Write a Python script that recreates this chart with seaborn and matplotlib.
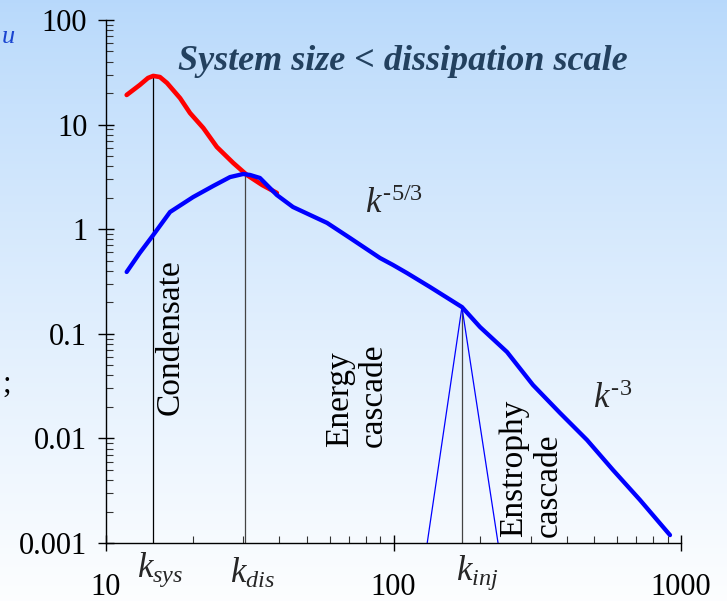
import numpy as np
import matplotlib
matplotlib.use("Agg")
import matplotlib.pyplot as plt
import matplotlib.ticker as mticker
import seaborn as sns

# Energy spectra
red_k = [11.8, 13.1, 14.0, 14.6, 15.4, 16.3, 18.1, 19.6, 21.8, 24.3, 27.7, 30.9, 34.9, 39.3]
red_e = [19.2, 23.9, 27.9, 29.2, 28.5, 25.0, 17.9, 12.9, 9.28, 6.11, 4.30, 3.30, 2.65, 2.22]

blue_k = [11.8, 13.1, 14.6, 16.7, 20.1, 23.6, 27.0, 30.0, 31.7, 34.3, 39.3, 44.7,
          58.7, 70.6, 89.7, 99.6, 111.4, 134.0, 173.1, 200.0, 248.2, 305.6, 379.5,
          471.0, 580.0, 720.0, 915.6]
blue_e = [0.390, 0.592, 0.880, 1.46, 2.03, 2.59, 3.15, 3.37, 3.30, 3.09, 2.12, 1.63,
          1.15, 0.824, 0.531, 0.455, 0.381, 0.280, 0.180, 0.116, 0.0670, 0.0324, 0.0175,
          0.00966, 0.00499, 0.00258, 0.00119]

# characteristic wavenumbers and where their markers end
mark_names = ["sys", "dis", "inj"]
mark_k = [14.6, 30.5, 173.0]
mark_top = [29.2, 3.3, 0.18]

# forcing "triangle" at k_inj
tri_k = [131.0, 173.0, 231.0]
tri_e = [0.001, 0.18, 0.001]

W, H = 727, 601
fig = plt.figure(figsize=(W / 100, H / 100), dpi=100)
sns.set_style("ticks")
plt.rcParams["font.family"] = ["Liberation Serif", "DejaVu Serif"]
plt.rcParams["mathtext.fontset"] = "custom"
plt.rcParams["mathtext.rm"] = "Liberation Serif"
plt.rcParams["mathtext.it"] = "Liberation Serif:italic"

# light blue to white backdrop
bg = fig.add_axes([0, 0, 1, 1], zorder=-1)
t = np.linspace(0, 1, 256)[:, None]
top = np.array([0.72, 0.85, 0.985])
bot = np.array([0.99, 0.995, 1.0])
grad = top + (bot - top) * t ** 0.85
bg.imshow(np.repeat(grad[:, None, :], 2, axis=1), aspect="auto", extent=[0, 1, 0, 1])
bg.axis("off")

ax = fig.add_axes([106 / W, 1 - 543 / H, 575 / W, 523 / H])
ax.set_facecolor("none")
ax.set_xscale("log")
ax.set_yscale("log")

sns.lineplot(x=red_k, y=red_e, sort=False, estimator=None, color="#ff0000", lw=3.3, ax=ax)
sns.lineplot(x=blue_k, y=blue_e, sort=False, estimator=None, color="#0000ff", lw=3.1, ax=ax)

ax.vlines(mark_k, 0.001, mark_top, colors=["black", "#444444", "#444444"], lw=0.9, zorder=1)
ax.plot(tri_k, tri_e, color="#0000ff", lw=0.9)

ax.set_xlim(10, 1000)
ax.set_ylim(0.001, 100)
sns.despine(ax=ax)
for s in ["left", "bottom"]:
    ax.spines[s].set_linewidth(1.0)
    ax.spines[s].set_color("black")

fmt = mticker.FuncFormatter(lambda v, p: f"{v:g}")
ax.xaxis.set_major_formatter(fmt)
ax.yaxis.set_major_formatter(fmt)
ax.xaxis.set_minor_formatter(mticker.NullFormatter())
ax.yaxis.set_minor_formatter(mticker.NullFormatter())
ax.tick_params(which="major", direction="inout", length=11, width=1, labelsize=22, colors="black")
ax.tick_params(which="minor", direction="in", length=5, width=0.8, colors="#333333")
ax.tick_params(axis="x", which="major", pad=16)
ax.tick_params(axis="y", which="major", pad=8)

# labels under the axis for the marked wavenumbers
xt = ax.get_xaxis_transform()
k_label_x = [12.8, 27.0, 165.0]
k_label_y = [-0.065, -0.077, -0.071]
for name, lx, ly in zip(mark_names, k_label_x, k_label_y):
    ax.text(lx, ly, rf"$k_{{{name}}}$", transform=xt, fontsize=25, ha="left",
            va="baseline", clip_on=False)

txt = dict(fontsize=24, rotation=90, color="black")
ax.text(16.8, 0.093, "Condensate", ha="center", va="center", **txt)
ax.text(74.6, 0.0083, "Energy\ncascade", ha="center", va="bottom",
        multialignment="left", linespacing=1.15, **txt)
ax.text(301, 0.00114, "Enstrophy\ncascade", ha="center", va="bottom",
        multialignment="left", linespacing=1.15, **txt)

ax.text(79.6, 1.43, r"$k^{\text{-5/3}}$", fontsize=25, ha="left", va="baseline")
ax.text(494, 0.0195, r"$k^{\text{-3}}$", fontsize=25, ha="left", va="baseline")

fig.text(403 / W, 1 - 70 / H, "System size < dissipation scale", fontsize=26,
         fontweight="bold", fontstyle="italic", color="#23415f", ha="center", va="baseline")

# bits of text at the left edge
fig.text(2 / W, 1 - 43 / H, "u", fontsize=19, fontstyle="italic", color="#1a44d0",
         ha="left", va="baseline")
fig.text(2 / W, 1 - 392 / H, ";", fontsize=22, color="black", ha="left", va="baseline")

fig.savefig("out.png", dpi=100)
